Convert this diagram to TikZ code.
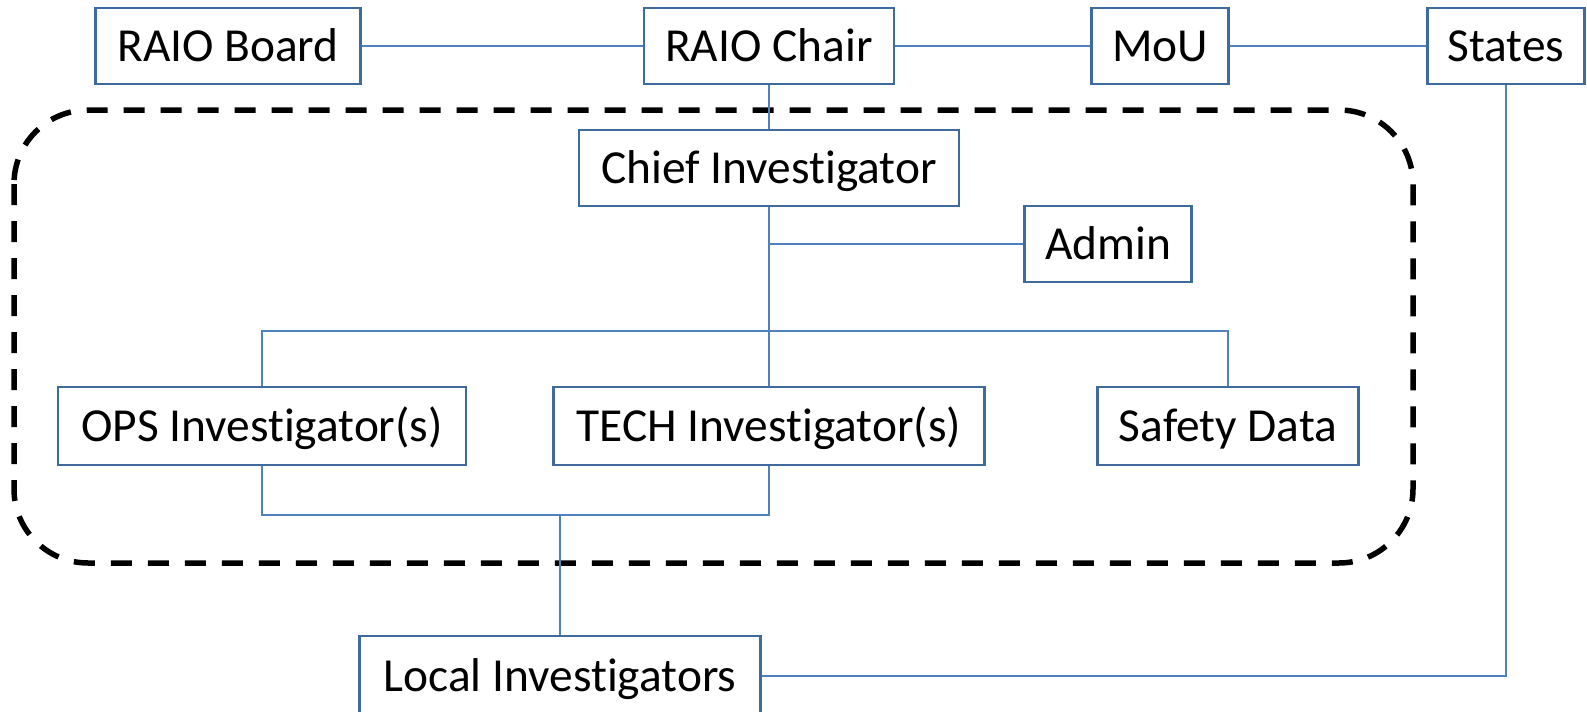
\documentclass[tikz,border=0pt]{standalone}
\usepackage{fontspec}
\setmainfont{Carlito}[Ligatures=NoCommon]
\definecolor{boxblue}{HTML}{3F6A9E}
\definecolor{lineblue}{HTML}{4F81BD}
\begin{document}
\begin{tikzpicture}[x=0.5pt,y=-0.5pt,
  box/.style={draw=boxblue, line width=1.2pt, fill=white, minimum height=38pt, inner sep=0pt,
    font=\fontsize{23.7}{28}\selectfont, text height=15.2pt, text depth=0pt},
  link/.style={draw=lineblue, line width=1pt},
  group/.style={draw=black, line width=2.75pt, dash pattern=on 10.5pt off 8pt, rounded corners=37pt}]
\clip (0,0) rectangle (1587,712);
% group outline
\draw[group] (14,110) rectangle (1413,563);
% boxes
\node[box, minimum width=132.5pt] (board)  at (228,46)  {RAIO Board};
\node[box, minimum width=125pt]   (chair)  at (769,46)  {RAIO Chair};
\node[box, minimum width=68.5pt]  (mou)    at (1160,46) {MoU};
\node[box, minimum width=78.5pt]  (states) at (1506,46) {States};
\node[box, minimum width=190pt]   (chief)  at (769,168) {Chief Investigator};
\node[box, minimum width=83.5pt]  (admin)  at (1108,244) {Admin};
\node[box, minimum width=204pt, minimum height=39pt]   (ops)    at (262,426) {OPS Investigator(s)};
\node[box, minimum width=215.5pt, minimum height=39pt] (tech)   at (769,426) {TECH Investigator(s)};
\node[box, minimum width=130.5pt, minimum height=39pt] (safety) at (1228,426) {Safety Data};
\node[box, minimum width=200.5pt, minimum height=40pt] (local)  at (560,676) {Local Investigators};
% connectors
\coordinate (bus) at (769,331);
\coordinate (join) at (560,515);
\draw[link] (board) -- (chair);
\draw[link] (chair) -- (mou);
\draw[link] (mou) -- (states);
\draw[link] (chair.south) -- (chief.north);
\draw[link] (chief.south) -- (tech.north);
\draw[link] (chief.south |- admin.west) -- (admin.west);
\draw[link] (ops.north) |- (bus) -| (safety.north);
\draw[link] (ops.south) |- (join) -| (tech.south);
\draw[link] (join) -- (local.north);
\draw[link] (states.south) |- (local.east);
\end{tikzpicture}
\end{document}
